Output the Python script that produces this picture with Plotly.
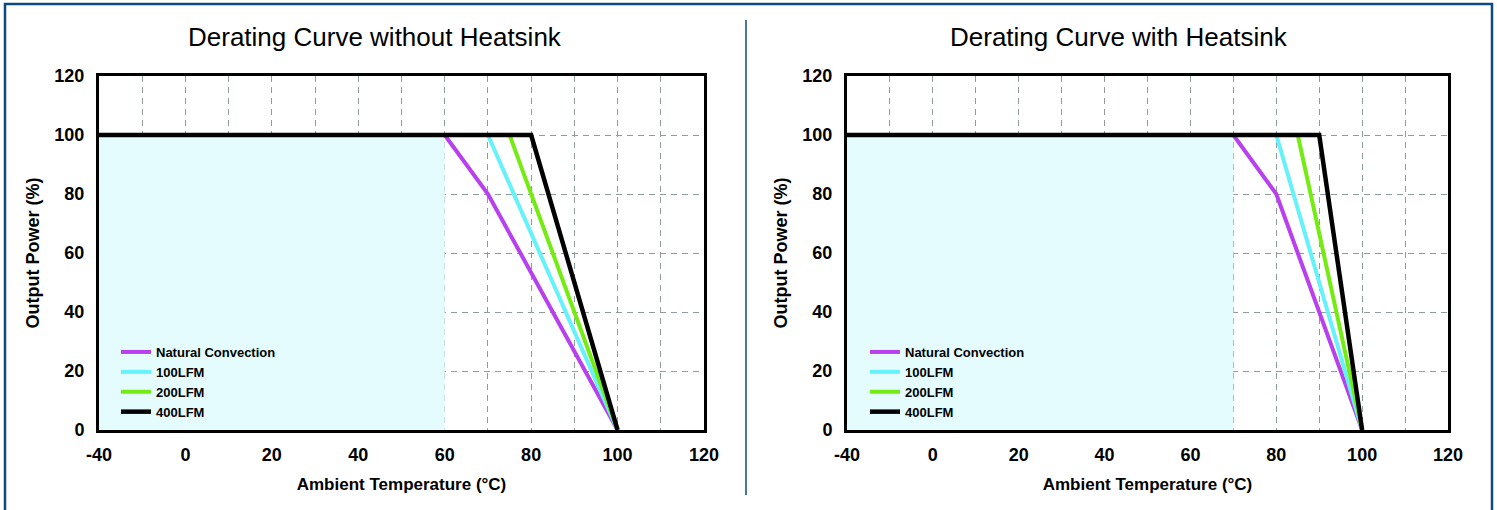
import plotly.graph_objects as go

# ---------------- data ----------------
series_names = ["Natural Convection", "100LFM", "200LFM", "400LFM"]
series_colors = ["#b840ee", "#66f2fb", "#74ec12", "#000000"]

# Chart 1: without heatsink (temperature in °C, power in %)
nohs_natural_t = [-40, 60, 70, 100]
nohs_natural_p = [100, 100, 80, 0]
nohs_100_t = [-40, 70, 100]
nohs_100_p = [100, 100, 0]
nohs_200_t = [-40, 75, 100]
nohs_200_p = [100, 100, 0]
nohs_400_t = [-40, 80, 100]
nohs_400_p = [100, 100, 0]
nohs_safe_end = 60

# Chart 2: with heatsink
hs_natural_t = [-40, 70, 80, 100]
hs_natural_p = [100, 100, 80, 0]
hs_100_t = [-40, 80, 100]
hs_100_p = [100, 100, 0]
hs_200_t = [-40, 85, 100]
hs_200_p = [100, 100, 0]
hs_400_t = [-40, 90, 100]
hs_400_p = [100, 100, 0]
hs_safe_end = 70

titles = ["Derating Curve without Heatsink", "Derating Curve with Heatsink"]
x_ticks = [-40, -20, 0, 10, 20, 30, 40, 50, 60, 70, 80, 90, 100, 110, 120]
x_labeled = [-40, 0, 20, 40, 60, 80, 100, 120]
y_ticks = [0, 20, 40, 60, 80, 100, 120]


# axis scale: the segment below 0 °C is drawn at half scale (broken axis)
def to_axis(t):
    return t / 2 if t < 0 else t


W, H = 1497, 510
FONT = "Arial, 'Liberation Sans', sans-serif"

fig = go.Figure()

charts = [
    (
        [(nohs_natural_t, nohs_natural_p), (nohs_100_t, nohs_100_p),
         (nohs_200_t, nohs_200_p), (nohs_400_t, nohs_400_p)],
        nohs_safe_end,
    ),
    (
        [(hs_natural_t, hs_natural_p), (hs_100_t, hs_100_p),
         (hs_200_t, hs_200_p), (hs_400_t, hs_400_p)],
        hs_safe_end,
    ),
]

for ci, (series, safe_end) in enumerate(charts):
    xa = "x" if ci == 0 else "x2"
    ya = "y" if ci == 0 else "y2"
    leg = "legend" if ci == 0 else "legend2"
    # shaded safe operating area
    sx = [to_axis(v) for v in [-40, safe_end, safe_end, -40, -40]]
    sy = [0, 0, 100, 100, 0]
    fig.add_trace(go.Scatter(
        x=sx, y=sy, fill="toself", fillcolor="#e4fcfd", mode="none",
        xaxis=xa, yaxis=ya, showlegend=False, hoverinfo="skip",
    ))
    for si, (t, p) in enumerate(series):
        fig.add_trace(go.Scatter(
            x=[to_axis(v) for v in t], y=p, mode="lines",
            name=series_names[si],
            line=dict(color=series_colors[si], width=4.5 if si == 3 else 4),
            xaxis=xa, yaxis=ya, legend=leg,
        ))

x_doms = [[99 / W, 704 / W], [847 / W, 1448 / W]]
y_dom = [(H - 430) / H, (H - 76) / H]

tickvals = [to_axis(v) for v in x_ticks]
ticktext = [str(v) if v in x_labeled else "" for v in x_ticks]

axis_common = dict(
    showline=True, linecolor="black", linewidth=3, mirror=True,
    showgrid=True, gridcolor="#8e9c9c", gridwidth=1, griddash="6px,5px",
    zeroline=False, ticks="", automargin=False,
    tickfont=dict(family=FONT, size=18, color="black", weight="bold"),
)

layout_axes = {}
for ci in range(2):
    sfx = "" if ci == 0 else "2"
    layout_axes["xaxis" + sfx] = dict(
        axis_common,
        domain=x_doms[ci], anchor="y" + sfx,
        range=[to_axis(-40), 120], tickmode="array",
        tickvals=tickvals, ticktext=ticktext,
        ticklabelstandoff=6,
        title=dict(text="Ambient Temperature (°C)", standoff=15,
                   font=dict(family=FONT, size=17, color="black", weight="bold")),
    )
    layout_axes["yaxis" + sfx] = dict(
        axis_common,
        domain=y_dom, anchor="x" + sfx,
        range=[0, 120], tickmode="array", tickvals=y_ticks,
        ticklabelstandoff=8,
        title=dict(text="Output Power (%)", standoff=11,
                   font=dict(family=FONT, size=18, color="black", weight="bold")),
    )

legend_common = dict(
    bgcolor="rgba(0,0,0,0)", borderwidth=0,
    font=dict(family=FONT, size=13, color="black", weight="bold"),
    xanchor="left", yanchor="top", tracegroupgap=0, itemwidth=30,
    traceorder="normal",
)

fig.update_layout(
    width=W, height=H,
    margin=dict(l=0, r=0, t=0, b=0, pad=0, autoexpand=False),
    paper_bgcolor="white", plot_bgcolor="white",
    font=dict(family=FONT, color="black"),
    showlegend=True,
    legend=dict(legend_common, x=116 / W, y=(H - 337) / H),
    legend2=dict(legend_common, x=865 / W, y=(H - 337) / H),
    **layout_axes,
)

# panel titles
for ci, cx in enumerate([375, 1119]):
    fig.add_annotation(
        text=titles[ci], xref="paper", yref="paper",
        x=cx / W, y=(H - 37) / H, xanchor="center", yanchor="middle",
        showarrow=False, font=dict(family=FONT, size=26, color="black"),
    )

# outer frame and divider
BLUE = "#0c4a7e"
fig.add_shape(type="rect", xref="paper", yref="paper",
              x0=5 / W, x1=1492 / W, y0=-0.05, y1=(H - 4) / H,
              line=dict(color=BLUE, width=2.5), layer="above")
fig.add_shape(type="line", xref="paper", yref="paper",
              x0=746 / W, x1=746 / W, y0=(H - 495) / H, y1=(H - 20) / H,
              line=dict(color=BLUE, width=1.5), layer="above")

fig.write_html(
    "out.html",
    config={"displayModeBar": False},
    post_script=(
        "document.body.style.margin='0';"
        "document.body.style.overflow='hidden';"
    ),
)
